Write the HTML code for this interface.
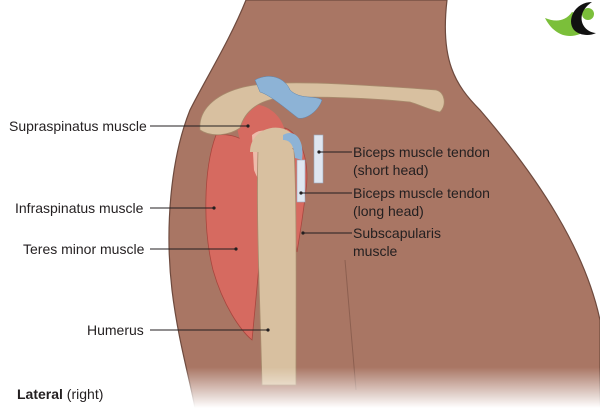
<!DOCTYPE html>
<html><head><style>
html,body{margin:0;padding:0;background:#fff;}
svg{display:block;}
text{font-family:"Liberation Sans",sans-serif;font-size:14px;fill:#231f20;}
</style></head><body>
<svg width="600" height="408" viewBox="0 0 600 408" xmlns="http://www.w3.org/2000/svg">
<defs>
<linearGradient id="fade" x1="0" y1="0" x2="0" y2="1">
<stop offset="0.9" stop-color="#fff" stop-opacity="0"/>
<stop offset="1" stop-color="#fff" stop-opacity="1"/>
</linearGradient>
</defs>
<path d="M246 0 C230 40 205 80 190 110 C170 160 165 230 172 290 C178 340 190 380 195 408 L600 408 L600 320 C585 250 540 180 480 110 C455 85 440 60 447 0 Z" fill="#a97664" stroke="#6e4a3e" stroke-width="1.2"/>
<path d="M345 260 C348 300 352 340 356 390" stroke="#8c5f50" stroke-width="1" fill="none"/>
<path d="M216 135 C203 170 203 230 213 270 C223 305 240 330 252 340 C256 300 262 230 268 175 C262 148 240 132 216 135 Z" fill="#d66a60" stroke="#a8463e" stroke-width="0.8"/>
<path d="M236 108 C255 98 278 108 284 128 C277 150 260 160 245 150 C238 140 236 125 236 108 Z" fill="#d66a60"/>
<path d="M252 135 C268 122 292 138 287 165 C277 192 262 192 254 170 Z" fill="#efc4b2" opacity="0.9"/>
<path d="M285 128 C300 133 310 160 306 190 C303 215 299 240 297 252 C292 220 290 180 288 150 Z" fill="#d66a60" stroke="#a8463e" stroke-width="0.8"/>
<path d="M258 150 C262 140 285 138 294 150 C297 200 296 300 296 385 L262 385 C260 300 256 220 258 150 Z" fill="#d8c0a0" stroke="#a78a6c" stroke-width="0.8"/>
<path d="M250 152 C250 124 292 118 298 145 C290 152 270 152 250 152 Z" fill="#d8c0a0"/>
<rect x="297" y="160" width="8" height="42" fill="#dfe6f0" stroke="#9aa9bf" stroke-width="0.6"/>
<rect x="314" y="135" width="9" height="48" fill="#dfe6f0" stroke="#9aa9bf" stroke-width="0.6"/>
<path d="M283 135 C295 128 305 140 302 160 L295 158 C294 145 290 140 283 140 Z" fill="#8db3d6"/>
<path d="M200 130 C198 110 215 95 240 88 C260 82 300 82 340 84 C380 86 410 88 436 90 C445 92 447 105 440 112 C430 110 420 105 410 102 C370 98 320 96 280 98 C260 100 245 110 240 128 C230 135 212 138 200 130 Z" fill="#d8c0a0" stroke="#a78a6c" stroke-width="0.8"/>
<path d="M255 80 C270 72 285 78 290 90 C300 100 315 95 322 100 C318 112 305 120 298 118 C285 108 270 95 260 92 Z" fill="#8db3d6" stroke="#5f87b0" stroke-width="0.5"/>
<path d="M545 18 C552 32 565 40 580 34 C585 25 580 14 572 12 C565 22 555 22 545 18 Z" fill="#7bbf3a"/>
<circle cx="588" cy="14" r="6" fill="#7bbf3a"/>
<path d="M592 2 C575 2 566 20 574 30 C580 36 590 36 596 33 C582 32 574 14 592 2 Z" fill="#111"/>
<g stroke="#231f20" stroke-width="1">
<line x1="150" y1="126" x2="248" y2="126"/>
<line x1="150" y1="208" x2="214" y2="208"/>
<line x1="150" y1="249" x2="236" y2="249"/>
<line x1="150" y1="330" x2="268" y2="330"/>
<line x1="319" y1="152" x2="352" y2="152"/>
<line x1="301" y1="193" x2="352" y2="193"/>
<line x1="303" y1="233" x2="352" y2="233"/>
</g>
<g fill="#231f20">
<circle cx="248" cy="126" r="1.6"/><circle cx="214" cy="208" r="1.6"/><circle cx="236" cy="249" r="1.6"/><circle cx="268" cy="330" r="1.6"/>
<circle cx="319" cy="152" r="1.6"/><circle cx="301" cy="193" r="1.6"/><circle cx="303" cy="233" r="1.6"/>
</g>
<text x="9" y="131">Supraspinatus muscle</text>
<text x="15" y="213">Infraspinatus muscle</text>
<text x="23" y="254">Teres minor muscle</text>
<text x="87" y="335">Humerus</text>
<text x="353" y="157">Biceps muscle tendon</text>
<text x="353" y="175">(short head)</text>
<text x="353" y="198">Biceps muscle tendon</text>
<text x="353" y="216">(long head)</text>
<text x="353" y="238">Subscapularis</text>
<text x="353" y="256">muscle</text>
<rect x="0" y="0" width="600" height="408" fill="url(#fade)"/>
<text x="17" y="399"><tspan font-weight="bold">Lateral</tspan> (right)</text>
</svg>
</body></html>
